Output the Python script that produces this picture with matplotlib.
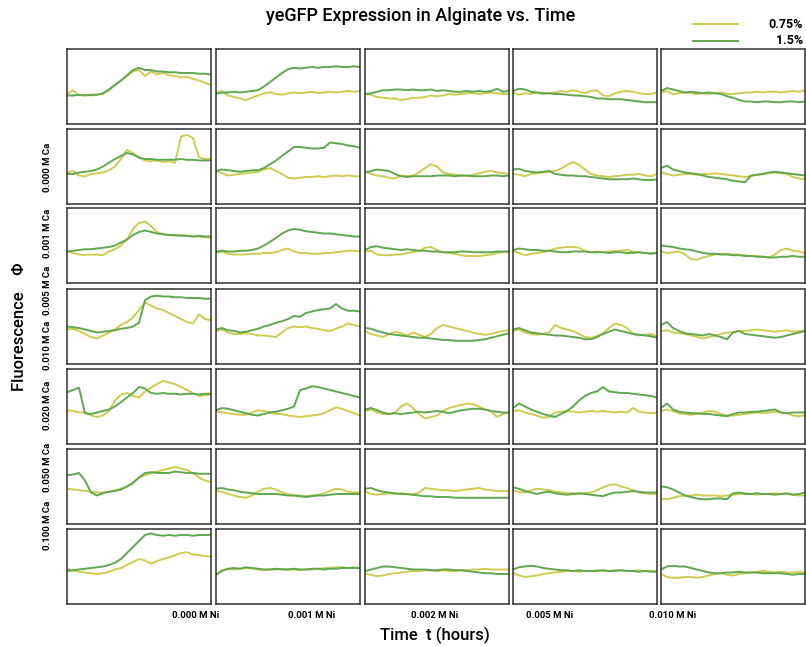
import matplotlib
matplotlib.use('Agg')
import matplotlib.pyplot as plt

# time axis (hours) and panel labels
hours = list(range(25))
ca_labels = ['0.000 M Ca', '0.001 M Ca', '0.005 M Ca', '0.010 M Ca',
             '0.020 M Ca', '0.050 M Ca', '0.100 M Ca']
ni_labels = ['0.000 M Ni', '0.001 M Ni', '0.002 M Ni', '0.005 M Ni', '0.010 M Ni']
alg_labels = ['0.75%', '1.5%']

# fluorescence (relative units), one list per Ni column, one pair per Ca row
yel_r0 = [
    [40, 45, 38, 39, 38, 39, 40, 45, 52, 58, 64, 70, 72, 64, 70, 66, 68, 65, 64, 62, 63, 60, 58, 55, 52],
    [42, 44, 38, 36, 34, 32, 35, 38, 41, 42, 40, 39, 41, 42, 41, 42, 43, 41, 42, 43, 42, 43, 44, 43, 44],
    [40, 39, 36, 35, 34, 34, 32, 33, 35, 35, 36, 38, 37, 38, 40, 39, 40, 41, 41, 40, 41, 42, 41, 40, 40],
    [42, 39, 41, 40, 42, 40, 41, 42, 44, 43, 45, 43, 41, 44, 45, 38, 37, 41, 43, 44, 43, 41, 40, 40, 42],
    [42, 44, 40, 41, 42, 41, 40, 41, 40, 41, 42, 40, 40, 41, 42, 42, 43, 42, 43, 43, 42, 43, 44, 43, 45],
]
grn_r0 = [
    [38, 38, 39, 38, 39, 39, 41, 46, 52, 58, 65, 72, 75, 72, 72, 70, 70, 69, 69, 68, 68, 68, 67, 67, 66],
    [40, 42, 42, 43, 42, 43, 44, 45, 50, 56, 62, 68, 73, 75, 74, 75, 76, 75, 76, 76, 77, 76, 76, 77, 76],
    [40, 41, 43, 45, 45, 46, 46, 45, 46, 45, 45, 46, 44, 45, 44, 43, 43, 44, 43, 44, 43, 44, 47, 43, 44],
    [44, 47, 46, 43, 42, 41, 41, 40, 40, 39, 38, 38, 37, 36, 34, 34, 33, 33, 33, 32, 31, 30, 29, 29, 29],
    [44, 48, 46, 44, 42, 43, 42, 41, 42, 41, 40, 37, 35, 32, 30, 30, 29, 30, 30, 29, 29, 30, 30, 29, 30],
]
yel_r1 = [
    [42, 44, 38, 37, 40, 41, 42, 45, 50, 60, 72, 68, 62, 58, 57, 58, 56, 57, 55, 90, 92, 88, 62, 60, 60],
    [44, 41, 38, 39, 40, 41, 42, 43, 46, 48, 44, 40, 35, 34, 35, 36, 36, 37, 36, 37, 38, 37, 38, 37, 37],
    [44, 40, 38, 37, 35, 34, 38, 37, 38, 42, 48, 53, 50, 42, 40, 39, 38, 37, 39, 41, 43, 44, 42, 41, 40],
    [40, 39, 37, 40, 41, 42, 43, 44, 47, 52, 56, 52, 46, 40, 38, 37, 36, 37, 38, 39, 39, 40, 38, 37, 40],
    [42, 40, 38, 39, 40, 40, 39, 40, 40, 41, 40, 39, 38, 37, 36, 37, 39, 40, 41, 42, 41, 40, 36, 34, 33],
]
grn_r1 = [
    [40, 40, 42, 43, 44, 46, 50, 55, 60, 64, 68, 66, 62, 60, 60, 59, 59, 59, 59, 60, 59, 59, 58, 58, 58],
    [44, 46, 45, 44, 43, 44, 45, 45, 48, 53, 58, 64, 70, 76, 76, 75, 74, 74, 75, 82, 81, 80, 78, 77, 75],
    [42, 44, 46, 45, 44, 40, 37, 36, 37, 37, 37, 37, 38, 38, 38, 37, 38, 38, 37, 37, 37, 38, 38, 37, 38],
    [46, 47, 44, 43, 42, 43, 44, 40, 39, 38, 38, 37, 37, 36, 35, 34, 33, 33, 33, 33, 34, 33, 32, 32, 33],
    [48, 51, 46, 44, 42, 41, 40, 38, 36, 35, 34, 33, 31, 30, 29, 38, 39, 40, 42, 43, 42, 41, 40, 39, 38],
]
yel_r2 = [
    [42, 40, 38, 37, 38, 38, 37, 42, 45, 50, 58, 72, 80, 82, 76, 68, 65, 64, 63, 64, 63, 62, 62, 61, 60],
    [40, 42, 39, 38, 38, 38, 39, 39, 40, 40, 41, 44, 46, 42, 40, 40, 39, 39, 40, 40, 41, 42, 43, 43, 42],
    [42, 43, 38, 37, 37, 38, 38, 40, 41, 43, 47, 48, 44, 41, 40, 39, 37, 36, 36, 36, 37, 38, 40, 41, 42],
    [43, 40, 37, 39, 40, 41, 43, 46, 47, 48, 48, 47, 43, 41, 42, 41, 42, 43, 43, 44, 42, 41, 40, 40, 40],
    [42, 40, 41, 42, 38, 32, 31, 34, 36, 38, 39, 39, 38, 38, 37, 36, 36, 35, 34, 38, 44, 46, 43, 42, 40],
]
grn_r2 = [
    [42, 43, 44, 45, 45, 46, 47, 48, 50, 54, 58, 64, 68, 70, 68, 66, 65, 64, 64, 63, 63, 62, 63, 62, 62],
    [42, 43, 42, 42, 43, 43, 44, 46, 50, 55, 60, 66, 70, 72, 71, 69, 68, 67, 66, 66, 65, 64, 63, 62, 62],
    [44, 48, 49, 47, 46, 45, 44, 45, 44, 43, 43, 42, 42, 41, 41, 41, 42, 42, 41, 41, 41, 41, 42, 42, 42],
    [44, 46, 45, 44, 44, 43, 43, 42, 41, 41, 42, 42, 42, 41, 41, 41, 40, 41, 41, 40, 40, 41, 40, 39, 40],
    [50, 49, 48, 46, 45, 44, 42, 40, 39, 39, 38, 38, 37, 37, 36, 36, 35, 35, 34, 34, 35, 35, 36, 35, 35],
]
yel_r3 = [
    [46, 47, 44, 40, 36, 34, 38, 42, 46, 52, 56, 62, 72, 82, 78, 74, 72, 68, 64, 60, 56, 54, 66, 60, 58],
    [44, 46, 42, 40, 40, 41, 40, 38, 38, 37, 36, 42, 48, 50, 49, 50, 48, 47, 45, 44, 47, 50, 54, 52, 50],
    [44, 40, 38, 36, 40, 43, 41, 38, 42, 39, 36, 40, 48, 52, 50, 48, 46, 44, 42, 40, 39, 40, 42, 44, 45],
    [44, 46, 42, 40, 39, 40, 42, 52, 48, 46, 44, 40, 36, 35, 37, 41, 48, 54, 52, 48, 40, 38, 39, 40, 37],
    [44, 45, 42, 41, 40, 38, 36, 34, 36, 38, 40, 42, 42, 44, 44, 45, 46, 45, 44, 43, 44, 45, 43, 44, 44],
]
grn_r3 = [
    [50, 49, 48, 46, 44, 42, 43, 44, 45, 47, 48, 50, 55, 85, 90, 91, 90, 90, 89, 89, 88, 88, 88, 87, 87],
    [46, 48, 45, 44, 42, 43, 45, 47, 50, 52, 55, 57, 60, 64, 63, 68, 70, 72, 73, 74, 80, 74, 71, 71, 70],
    [48, 47, 44, 42, 40, 39, 38, 37, 36, 35, 35, 34, 33, 32, 32, 31, 31, 31, 31, 32, 33, 35, 37, 39, 41],
    [46, 48, 45, 42, 41, 40, 39, 38, 38, 37, 36, 35, 33, 33, 36, 40, 43, 46, 44, 42, 40, 39, 38, 37, 35],
    [52, 56, 48, 44, 41, 40, 39, 38, 40, 38, 36, 33, 42, 44, 40, 39, 38, 37, 36, 35, 36, 38, 40, 42, 44],
]
yel_r4 = [
    [45, 44, 42, 42, 38, 36, 38, 44, 58, 66, 68, 64, 62, 70, 75, 80, 84, 82, 80, 76, 72, 68, 64, 65, 66],
    [44, 42, 41, 40, 39, 39, 42, 45, 44, 42, 40, 40, 38, 37, 36, 37, 38, 39, 41, 45, 49, 47, 44, 41, 38],
    [44, 46, 42, 40, 40, 42, 50, 54, 48, 40, 34, 36, 38, 44, 48, 50, 52, 54, 53, 50, 46, 44, 36, 40, 42],
    [44, 45, 42, 40, 38, 35, 36, 42, 43, 44, 43, 42, 43, 44, 43, 44, 43, 42, 43, 42, 48, 43, 42, 41, 42],
    [44, 46, 44, 41, 40, 39, 40, 42, 44, 43, 40, 38, 38, 39, 40, 41, 42, 41, 42, 43, 42, 41, 38, 37, 38],
]
grn_r4 = [
    [69, 72, 75, 41, 40, 42, 44, 46, 50, 56, 62, 68, 76, 74, 68, 67, 68, 67, 67, 66, 67, 67, 66, 67, 67],
    [45, 48, 47, 45, 43, 41, 39, 38, 40, 42, 43, 45, 47, 50, 72, 74, 77, 76, 74, 72, 70, 68, 66, 64, 62],
    [46, 48, 45, 42, 40, 41, 40, 41, 42, 43, 42, 43, 44, 43, 41, 43, 45, 46, 47, 47, 46, 44, 43, 42, 42],
    [48, 54, 50, 46, 43, 40, 38, 36, 40, 44, 50, 58, 64, 68, 70, 76, 70, 69, 68, 68, 67, 66, 65, 64, 62],
    [48, 54, 46, 43, 42, 41, 41, 40, 40, 39, 38, 37, 40, 42, 42, 43, 43, 44, 45, 46, 42, 41, 42, 42, 42],
]
yel_r5 = [
    [47, 46, 45, 44, 43, 42, 42, 43, 45, 47, 50, 54, 62, 65, 68, 70, 72, 74, 76, 74, 72, 68, 62, 58, 56],
    [44, 43, 40, 38, 36, 35, 38, 43, 47, 48, 46, 42, 40, 38, 38, 37, 38, 39, 41, 44, 47, 46, 43, 42, 42],
    [44, 40, 39, 40, 41, 40, 41, 40, 39, 42, 48, 47, 46, 45, 45, 44, 45, 46, 47, 48, 46, 45, 44, 44, 44],
    [44, 43, 42, 45, 47, 46, 45, 43, 42, 41, 41, 40, 41, 42, 45, 49, 52, 53, 50, 48, 45, 42, 41, 40, 40],
    [34, 33, 35, 37, 38, 38, 39, 38, 38, 38, 37, 38, 39, 40, 41, 40, 39, 40, 40, 41, 40, 40, 39, 38, 38],
]
grn_r5 = [
    [65, 66, 68, 58, 42, 38, 41, 43, 44, 46, 50, 55, 62, 68, 69, 68, 68, 68, 70, 69, 68, 68, 67, 67, 67],
    [47, 48, 46, 45, 43, 42, 41, 40, 40, 40, 40, 39, 38, 38, 37, 36, 37, 38, 38, 39, 40, 40, 40, 40, 40],
    [47, 48, 45, 43, 42, 41, 40, 40, 39, 38, 37, 37, 36, 36, 36, 35, 35, 35, 35, 35, 35, 35, 35, 35, 35],
    [49, 47, 44, 42, 40, 42, 43, 41, 40, 39, 40, 41, 40, 39, 38, 37, 40, 42, 42, 43, 44, 43, 42, 42, 42],
    [50, 49, 46, 42, 38, 36, 34, 33, 33, 34, 34, 33, 41, 42, 40, 40, 41, 40, 40, 39, 40, 41, 39, 40, 42],
]
yel_r6 = [
    [47, 45, 43, 42, 41, 40, 41, 43, 46, 48, 52, 56, 60, 58, 54, 57, 60, 62, 65, 68, 69, 66, 65, 64, 63],
    [40, 45, 47, 46, 47, 48, 47, 46, 45, 46, 46, 47, 46, 46, 45, 46, 46, 47, 48, 48, 49, 49, 48, 49, 48],
    [40, 39, 37, 38, 40, 41, 42, 43, 44, 44, 45, 45, 44, 45, 44, 44, 45, 45, 46, 46, 47, 46, 46, 46, 46],
    [42, 38, 36, 37, 38, 40, 41, 42, 43, 44, 44, 43, 44, 44, 45, 44, 44, 45, 45, 44, 44, 45, 44, 44, 44],
    [40, 36, 35, 35, 36, 36, 35, 36, 38, 40, 41, 39, 38, 40, 41, 42, 43, 44, 43, 42, 43, 42, 42, 43, 42],
]
grn_r6 = [
    [44, 45, 46, 47, 48, 49, 50, 52, 55, 60, 68, 76, 84, 92, 94, 92, 91, 92, 91, 92, 92, 91, 92, 92, 92],
    [39, 44, 47, 48, 47, 49, 48, 47, 46, 46, 47, 46, 46, 47, 46, 46, 47, 47, 46, 47, 47, 48, 48, 48, 48],
    [44, 46, 48, 50, 50, 49, 48, 47, 46, 46, 46, 45, 45, 46, 46, 45, 45, 44, 43, 42, 41, 41, 40, 40, 40],
    [46, 49, 50, 51, 50, 48, 47, 46, 45, 45, 44, 45, 44, 44, 44, 45, 44, 44, 45, 44, 44, 43, 44, 43, 43],
    [46, 50, 51, 50, 50, 48, 46, 44, 42, 41, 41, 42, 42, 43, 42, 42, 42, 41, 41, 41, 41, 40, 39, 40, 40],
]

yel_rows = [yel_r0, yel_r1, yel_r2, yel_r3, yel_r4, yel_r5, yel_r6]
grn_rows = [grn_r0, grn_r1, grn_r2, grn_r3, grn_r4, grn_r5, grn_r6]

YEL = '#cfcc4f'
GRN = '#5ea94f'
W, H = 806, 646
fam = ['Roboto', 'DejaVu Sans']

fig = plt.figure(figsize=(W / 100, H / 100), dpi=100)

col_left = [67, 216, 365, 513, 661]
row_top = [49, 129, 208, 289, 369, 449, 529]
pw, ph = 144, 75

for r in range(7):
    for c in range(5):
        ax = fig.add_axes([col_left[c] / W, 1 - (row_top[r] + ph) / H, pw / W, ph / H])
        ax.plot(hours, yel_rows[r][c], color=YEL, lw=1.4)
        ax.plot(hours, grn_rows[r][c], color=GRN, lw=1.4)
        ax.set_xlim(0, 24)
        ax.set_ylim(0, 100)
        ax.set_xticks([])
        ax.set_yticks([])
        for s in ax.spines.values():
            s.set_color('#303030')
            s.set_linewidth(1.1)

# row / column labels
ca_y = [167, 233, 290, 345, 405, 467, 525]
for lab, y in zip(ca_labels, ca_y):
    fig.text(47 / W, 1 - y / H, lab, rotation=90, ha='center', va='center',
             fontsize=6.8, fontweight='bold', family=fam)
ni_x = [196, 312, 435, 550, 673]
for lab, x in zip(ni_labels, ni_x):
    fig.text(x / W, 1 - 615 / H, lab, ha='center', va='center',
             fontsize=6.8, fontweight='bold', family=fam)

fig.text(20 / W, 1 - 327 / H, 'Fluorescence    \u03a6', rotation=90, ha='center', va='center',
         fontsize=12, fontweight='medium', family=fam)
fig.text(435 / W, 1 - 635 / H, 'Time  t (hours)', ha='center', va='center',
         fontsize=12, fontweight='medium', family=fam)
fig.text(421 / W, 1 - 16 / H, 'yeGFP Expression in Alginate vs. Time', ha='center', va='center',
         fontsize=13, fontweight='medium', family=fam)

# legend
for lab, col, y in zip(alg_labels, [YEL, GRN], [24, 41]):
    fig.add_artist(plt.Line2D([693 / W, 738 / W], [1 - y / H, 1 - y / H], color=col, lw=1.4))
    fig.text(803 / W, 1 - y / H, lab, ha='right', va='center', fontsize=9,
             fontweight='bold', family=fam)

fig.savefig('out.png', dpi=100)
